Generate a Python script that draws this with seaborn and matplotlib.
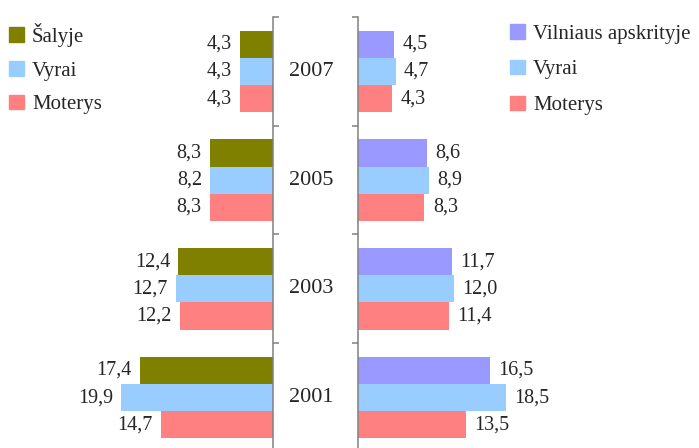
#!/usr/bin/env python3
"""Unemployment-style butterfly bar chart: Šalyje vs Vilniaus apskrityje by year."""
import matplotlib

matplotlib.use("Agg")
import matplotlib.pyplot as plt
import matplotlib.transforms as mtransforms
import pandas as pd
import seaborn as sns
from matplotlib.patches import Patch

YEARS = ["2007", "2005", "2003", "2001"]

# left panel (country)
LEFT_SERIES = ["Šalyje", "Vyrai", "Moterys"]
salyje = [4.3, 8.3, 12.4, 17.4]
salyje_vyrai = [4.3, 8.2, 12.7, 19.9]
salyje_moterys = [4.3, 8.3, 12.2, 14.7]

# right panel (Vilnius county)
RIGHT_SERIES = ["Vilniaus apskrityje", "Vyrai", "Moterys"]
vilnius = [4.5, 8.6, 11.7, 16.5]
vilnius_vyrai = [4.7, 8.9, 12.0, 18.5]
vilnius_moterys = [4.3, 8.3, 11.4, 13.5]

LEFT_COLORS = ["#808000", "#99CCFF", "#FF8080"]
RIGHT_COLORS = ["#9999FF", "#99CCFF", "#FF8080"]

W, H = 699, 448


def long_df(series_names, columns):
    rows = []
    for name, vals in zip(series_names, columns):
        for year, v in zip(YEARS, vals):
            rows.append({"year": year, "series": name, "value": v})
    return pd.DataFrame(rows)


def fmt(v):
    return f"{v:.1f}".replace(".", ",")


def main() -> None:
    sns.set_style("white")
    plt.rcParams["font.family"] = ["Liberation Serif", "DejaVu Serif"]

    fig = plt.figure(figsize=(W / 100, H / 100), dpi=100)
    top = 1 - 17 / H
    bottom = 1 - 452 / H
    ax_l = fig.add_axes([0, bottom, 273 / W, top - bottom])
    ax_r = fig.add_axes([358 / W, bottom, (W - 358) / W, top - bottom])

    panels = [
        (ax_l, LEFT_SERIES, [salyje, salyje_vyrai, salyje_moterys], LEFT_COLORS),
        (ax_r, RIGHT_SERIES, [vilnius, vilnius_vyrai, vilnius_moterys], RIGHT_COLORS),
    ]
    for ax, names, cols, colors in panels:
        df = long_df(names, cols)
        sns.barplot(
            data=df, y="year", x="value", hue="series",
            order=YEARS, hue_order=names, palette=colors,
            orient="h", width=0.75, saturation=1, legend=False,
            linewidth=0, ax=ax,
        )
        ax.set_ylim(3.5, -0.5)
        ax.set_yticks([-0.5, 0.5, 1.5, 2.5, 3.5])
        ax.set_yticklabels([])
        ax.set_xticks([])
        ax.set_xlabel("")
        ax.set_ylabel("")
        for s in ax.spines.values():
            s.set_visible(False)

    # left panel grows to the left, axis on its right side
    ax_l.set_xlim(35.8, 0)
    ax_l.spines["right"].set_visible(True)
    ax_l.yaxis.tick_right()
    ax_r.set_xlim(0, 42.6)
    ax_r.spines["left"].set_visible(True)
    ax_r.yaxis.tick_left()
    for ax in (ax_l, ax_r):
        ax.spines[["left", "right"]].set_color("#808080")
        ax.spines[["left", "right"]].set_linewidth(1.1)
        ax.tick_params(axis="y", direction="out", length=4, width=1.1, color="#808080")

    # value labels: outside the bar end, on the left they go leftwards
    for ax, cols, sign, ha in [
        (ax_l, [salyje, salyje_vyrai, salyje_moterys], -1, "right"),
        (ax_r, [vilnius, vilnius_vyrai, vilnius_moterys], 1, "left"),
    ]:
        for cont, vals in zip(ax.containers, cols):
            for bar, v in zip(cont, vals):
                ax.annotate(
                    fmt(v), (bar.get_width(), bar.get_y() + bar.get_height() / 2),
                    xytext=(sign * 6, 0), textcoords="offset points",
                    ha=ha, va="center", fontsize=14.5,
                )

    # year labels between the two panels
    trans = mtransforms.blended_transform_factory(fig.transFigure, ax_l.transData)
    for i, year in enumerate(YEARS):
        fig.text(311 / W, i, year, transform=trans, ha="center", va="center", fontsize=16)

    leg_kw = dict(
        frameon=False, loc="upper left", fontsize=15, handlelength=0.7,
        handleheight=0.7, handletextpad=0.4,
        borderpad=0, borderaxespad=0,
    )
    fig.legend(
        handles=[Patch(color=c, label=n) for c, n in zip(LEFT_COLORS, LEFT_SERIES)],
        bbox_to_anchor=(9 / W, 1 - 23 / H), labelspacing=0.68, **leg_kw,
    )
    fig.legend(
        handles=[Patch(color=c, label=n) for c, n in zip(RIGHT_COLORS, RIGHT_SERIES)],
        bbox_to_anchor=(510 / W, 1 - 24 / H), labelspacing=0.78, **leg_kw,
    )

    fig.savefig("out.png", dpi=100)


if __name__ == "__main__":
    main()
